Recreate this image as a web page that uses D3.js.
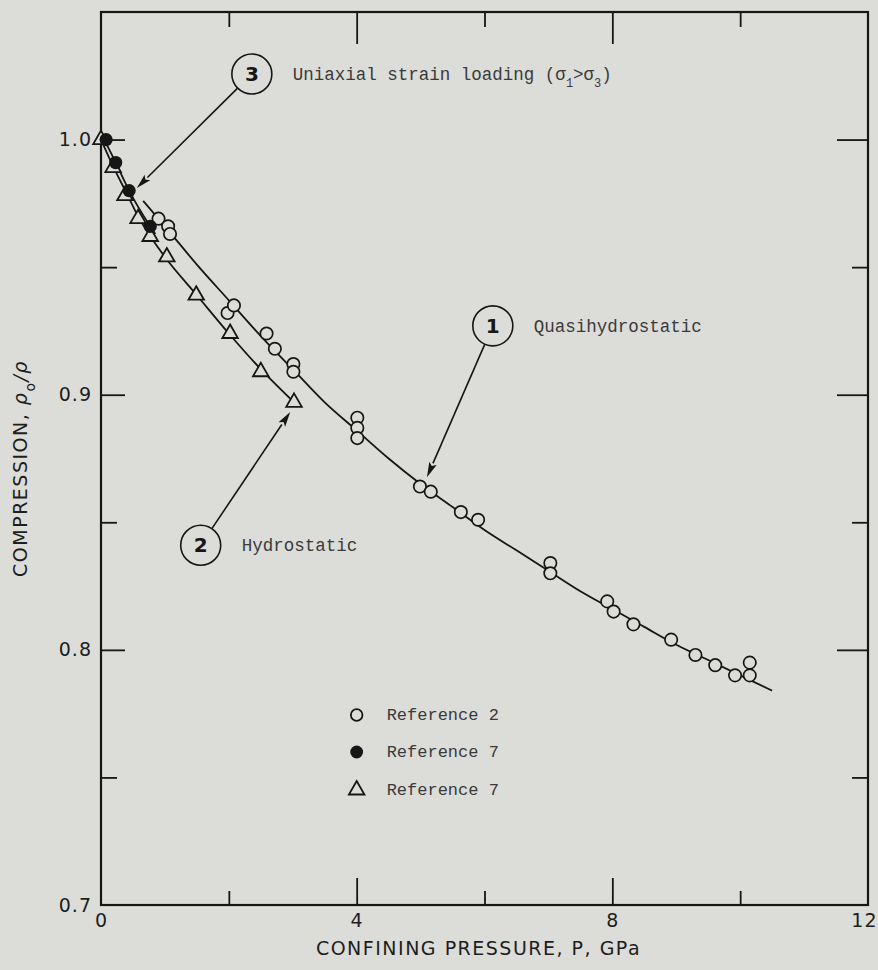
<!DOCTYPE html>
<html>
<head>
<meta charset="utf-8">
<script src="https://cdn.jsdelivr.net/npm/d3@7"></script>
<style>
  html, body { margin: 0; padding: 0; background: #dcdcd8; }
  svg { display: block; }
</style>
</head>
<body>
<svg id="chart" width="878" height="970"></svg>
<script>
// ---- Data: compression (rho0/rho) versus confining pressure (GPa) ----
// Reference 2, open circles (quasihydrostatic)
const ref2Pressure    = [0.90, 1.05, 1.08, 1.98, 2.08, 2.59, 2.72, 3.01, 3.01, 4.01, 4.01, 4.01, 4.99, 5.16, 5.63, 5.90, 7.03, 7.03, 7.92, 8.02, 8.33, 8.92, 9.30, 9.61, 9.92, 10.15, 10.15];
const ref2Compression = [0.969, 0.966, 0.963, 0.932, 0.935, 0.924, 0.918, 0.912, 0.909, 0.891, 0.887, 0.883, 0.864, 0.862, 0.854, 0.851, 0.834, 0.830, 0.819, 0.815, 0.810, 0.804, 0.798, 0.794, 0.790, 0.795, 0.790];

// Reference 7, filled circles (uniaxial strain loading)
const ref7FilledPressure    = [0.08, 0.23, 0.44, 0.77];
const ref7FilledCompression = [1.000, 0.991, 0.980, 0.966];

// Reference 7, triangles (hydrostatic)
const ref7TriPressure    = [0.00, 0.19, 0.375, 0.58, 0.77, 1.03, 1.49, 2.02, 2.50, 3.02];
const ref7TriCompression = [1.000, 0.989, 0.978, 0.969, 0.962, 0.954, 0.939, 0.924, 0.909, 0.897];

// Fitted curves
const curve1Pressure    = [0.66, 1.0, 1.5, 2.0, 2.5, 3.0, 3.5, 4.0, 4.5, 5.0, 5.5, 6.0, 6.5, 7.0, 7.5, 8.0, 8.5, 9.0, 9.5, 10.0, 10.5];
const curve1Compression = [0.976, 0.966, 0.951, 0.937, 0.923, 0.910, 0.897, 0.886, 0.875, 0.865, 0.856, 0.847, 0.839, 0.831, 0.823, 0.816, 0.809, 0.802, 0.796, 0.790, 0.784];
const curve2Pressure    = [0.0, 0.2, 0.4, 0.6, 0.8, 1.0, 1.5, 2.0, 2.5, 3.02];
const curve2Compression = [1.000, 0.989, 0.979, 0.969, 0.961, 0.954, 0.939, 0.924, 0.910, 0.897];
const curve3Pressure    = [0.05, 0.23, 0.44, 0.77, 0.85];
const curve3Compression = [1.000, 0.991, 0.980, 0.966, 0.963];

// Axis ticks
const xMajorTicks = [0, 4, 8, 12];
const xMinorTicks = [2, 6, 10];
const xInnerMajor = [4, 8];
const yMajorTicks = [0.7, 0.8, 0.9, 1.0];
const yMinorTicks = [0.75, 0.85, 0.95];
const yInnerMajor = [0.8, 0.9, 1.0];

// Callouts (circled numbers with arrows)
const calloutNumbers  = ["3", "1", "2"];
const calloutPressure = [2.36, 6.13, 1.56];
const calloutCompr    = [1.0257, 0.927, 0.841];
const arrowTipPressure = [0.56, 5.10, 2.96];
const arrowTipCompr    = [0.981, 0.8677, 0.8932];

// Legend
const legendLabels  = ["Reference 2", "Reference 7", "Reference 7"];
const legendSymbols = ["open", "filled", "triangle"];

// ---- Drawing ----
const ink = "#161616";
const paper = "#dcdcd8";
const svg = d3.select("#chart");

const x = d3.scaleLinear().domain([0, 12]).range([101, 868]);
const y = d3.scaleLinear().domain([0.7, 1.05]).range([905, 12]);

const sansFont = "'DejaVu Sans', 'Liberation Sans', sans-serif";
const monoFont = "'Liberation Mono', 'DejaVu Sans Mono', monospace";

function styleAxis(g) {
  g.select(".domain").remove();
  g.selectAll(".tick line").attr("stroke", ink).attr("stroke-width", 1.8);
  g.selectAll(".tick text")
    .attr("fill", "#1e1e1e")
    .style("font-family", sansFont)
    .style("font-size", "19px")
    .style("letter-spacing", "1px");
}

// bottom
svg.append("g").attr("transform", `translate(0,${y(0.7)})`)
  .call(d3.axisBottom(x).tickValues(xMajorTicks).tickSize(0).tickPadding(9).tickFormat(d3.format("d")))
  .call(styleAxis)
  .call(g => g.selectAll(".tick text").filter(d => d === 12).attr("text-anchor", "end").attr("x", 9));
svg.append("g").attr("transform", `translate(0,${y(0.7)})`)
  .call(d3.axisBottom(x).tickValues(xInnerMajor).tickSize(-27).tickFormat(""))
  .call(styleAxis);
svg.append("g").attr("transform", `translate(0,${y(0.7)})`)
  .call(d3.axisBottom(x).tickValues(xMinorTicks).tickSize(-14).tickFormat(""))
  .call(styleAxis);
// top
svg.append("g").attr("transform", `translate(0,${y(1.05)})`)
  .call(d3.axisTop(x).tickValues(xInnerMajor).tickSize(-32).tickFormat(""))
  .call(styleAxis);
svg.append("g").attr("transform", `translate(0,${y(1.05)})`)
  .call(d3.axisTop(x).tickValues(xMinorTicks).tickSize(-15).tickFormat(""))
  .call(styleAxis);
// left
svg.append("g").attr("transform", `translate(${x(0)},0)`)
  .call(d3.axisLeft(y).tickValues(yMajorTicks).tickSize(0).tickPadding(9).tickFormat(d3.format(".1f")))
  .call(styleAxis);
svg.append("g").attr("transform", `translate(${x(0)},0)`)
  .call(d3.axisLeft(y).tickValues(yInnerMajor).tickSize(-24).tickFormat(""))
  .call(styleAxis);
svg.append("g").attr("transform", `translate(${x(0)},0)`)
  .call(d3.axisLeft(y).tickValues(yMinorTicks).tickSize(-16).tickFormat(""))
  .call(styleAxis);
// right
svg.append("g").attr("transform", `translate(${x(12)},0)`)
  .call(d3.axisRight(y).tickValues(yInnerMajor).tickSize(-31).tickFormat(""))
  .call(styleAxis);
svg.append("g").attr("transform", `translate(${x(12)},0)`)
  .call(d3.axisRight(y).tickValues(yMinorTicks).tickSize(-16).tickFormat(""))
  .call(styleAxis);

// frame
svg.append("rect")
  .attr("x", x(0)).attr("y", y(1.05))
  .attr("width", x(12) - x(0)).attr("height", y(0.7) - y(1.05))
  .attr("fill", "none").attr("stroke", ink).attr("stroke-width", 2.2);

// axis titles
svg.append("text")
  .attr("x", (x(0) + x(12)) / 2 - 6).attr("y", 955)
  .attr("text-anchor", "middle")
  .attr("fill", "#1e1e1e")
  .style("font-family", sansFont).style("font-size", "19px").style("letter-spacing", "1.5px")
  .text("CONFINING PRESSURE, P, GPa");

const yTitle = svg.append("text")
  .attr("transform", `translate(27,${(y(0.7) + y(1.05)) / 2 + 10}) rotate(-90)`)
  .attr("text-anchor", "middle")
  .attr("fill", "#1e1e1e")
  .style("font-family", sansFont).style("font-size", "19px").style("letter-spacing", "1.5px");
yTitle.append("tspan").text("COMPRESSION, ");
yTitle.append("tspan").style("font-style", "italic").text("ρ");
yTitle.append("tspan").attr("baseline-shift", "sub").style("font-size", "14px").text("o");
yTitle.append("tspan").style("font-style", "italic").text("/ρ");

// curves
const line = d3.line().x(d => x(d[0])).y(d => y(d[1])).curve(d3.curveMonotoneX);
const curves = [
  d3.zip(curve1Pressure, curve1Compression),
  d3.zip(curve2Pressure, curve2Compression),
  d3.zip(curve3Pressure, curve3Compression)
];
svg.append("g").selectAll("path").data(curves).join("path")
  .attr("d", line)
  .attr("fill", "none").attr("stroke", ink).attr("stroke-width", 1.8);

// markers
const triPath = d3.symbol().type(d3.symbolTriangle).size(105);
svg.append("g").selectAll("path")
  .data(d3.zip(ref7TriPressure, ref7TriCompression)).join("path")
  .attr("d", triPath)
  .attr("transform", d => `translate(${x(d[0])},${y(d[1])})`)
  .attr("fill", paper).attr("stroke", ink).attr("stroke-width", 1.8);

svg.append("g").selectAll("circle")
  .data(d3.zip(ref2Pressure, ref2Compression)).join("circle")
  .attr("cx", d => x(d[0])).attr("cy", d => y(d[1])).attr("r", 6.2)
  .attr("fill", paper).attr("stroke", ink).attr("stroke-width", 1.7);

svg.append("g").selectAll("circle")
  .data(d3.zip(ref7FilledPressure, ref7FilledCompression)).join("circle")
  .attr("cx", d => x(d[0])).attr("cy", d => y(d[1])).attr("r", 6.6)
  .attr("fill", ink);

// callouts
const calloutTexts = [
  [["Uniaxial strain loading (σ", null], ["1", "sub"], [">σ", null], ["3", "sub"], [")", null]],
  [["Quasihydrostatic", null]],
  [["Hydrostatic", null]]
];
const R = 20;
const callouts = svg.append("g");
calloutNumbers.forEach((num, i) => {
  const cx = x(calloutPressure[i]), cy = y(calloutCompr[i]);
  const tx = x(arrowTipPressure[i]), ty = y(arrowTipCompr[i]);
  const ang = Math.atan2(ty - cy, tx - cx);
  const sx = cx + R * Math.cos(ang), sy = cy + R * Math.sin(ang);
  // arrow shaft
  const headLen = 15, headW = 4;
  const bx = tx - headLen * Math.cos(ang), by = ty - headLen * Math.sin(ang);
  callouts.append("line")
    .attr("x1", sx).attr("y1", sy).attr("x2", bx).attr("y2", by)
    .attr("stroke", ink).attr("stroke-width", 1.6);
  const px = -Math.sin(ang), py = Math.cos(ang);
  callouts.append("path")
    .attr("d", `M${tx},${ty} L${bx + px * headW},${by + py * headW} L${bx + 3 * Math.cos(ang)},${by + 3 * Math.sin(ang)} L${bx - px * headW},${by - py * headW} Z`)
    .attr("fill", ink);
  // circle with number
  callouts.append("circle")
    .attr("cx", cx).attr("cy", cy).attr("r", R)
    .attr("fill", "none").attr("stroke", ink).attr("stroke-width", 1.6);
  callouts.append("text")
    .attr("x", cx).attr("y", cy + 7)
    .attr("text-anchor", "middle")
    .attr("fill", ink)
    .style("font-family", sansFont).style("font-size", "20px").style("font-weight", "bold")
    .text(num);
  // descriptive text
  const t = callouts.append("text")
    .attr("x", cx + 41).attr("y", cy + 6)
    .attr("fill", "#3a3a3a")
    .style("font-family", monoFont).style("font-size", "17.5px");
  calloutTexts[i].forEach(([s, shift]) => {
    const sp = t.append("tspan").text(s);
    if (shift) sp.attr("baseline-shift", shift).style("font-size", "12px");
  });
});

// legend
const legendX = x(4.0), legendTextX = legendX + 30;
const legendY = [715, 752, 790];
const legend = svg.append("g");
legendLabels.forEach((lab, i) => {
  const sym = legendSymbols[i];
  if (sym === "triangle") {
    legend.append("path").attr("d", triPath)
      .attr("transform", `translate(${legendX},${legendY[i]})`)
      .attr("fill", paper).attr("stroke", ink).attr("stroke-width", 1.8);
  } else {
    legend.append("circle").attr("cx", legendX).attr("cy", legendY[i])
      .attr("r", sym === "open" ? 5.8 : 6.4)
      .attr("fill", sym === "open" ? paper : ink)
      .attr("stroke", ink).attr("stroke-width", sym === "open" ? 1.8 : 0);
  }
  legend.append("text")
    .attr("x", legendTextX).attr("y", legendY[i] + 5)
    .attr("fill", "#3a3a3a")
    .style("font-family", monoFont).style("font-size", "17px")
    .text(lab);
});
</script>
</body>
</html>
